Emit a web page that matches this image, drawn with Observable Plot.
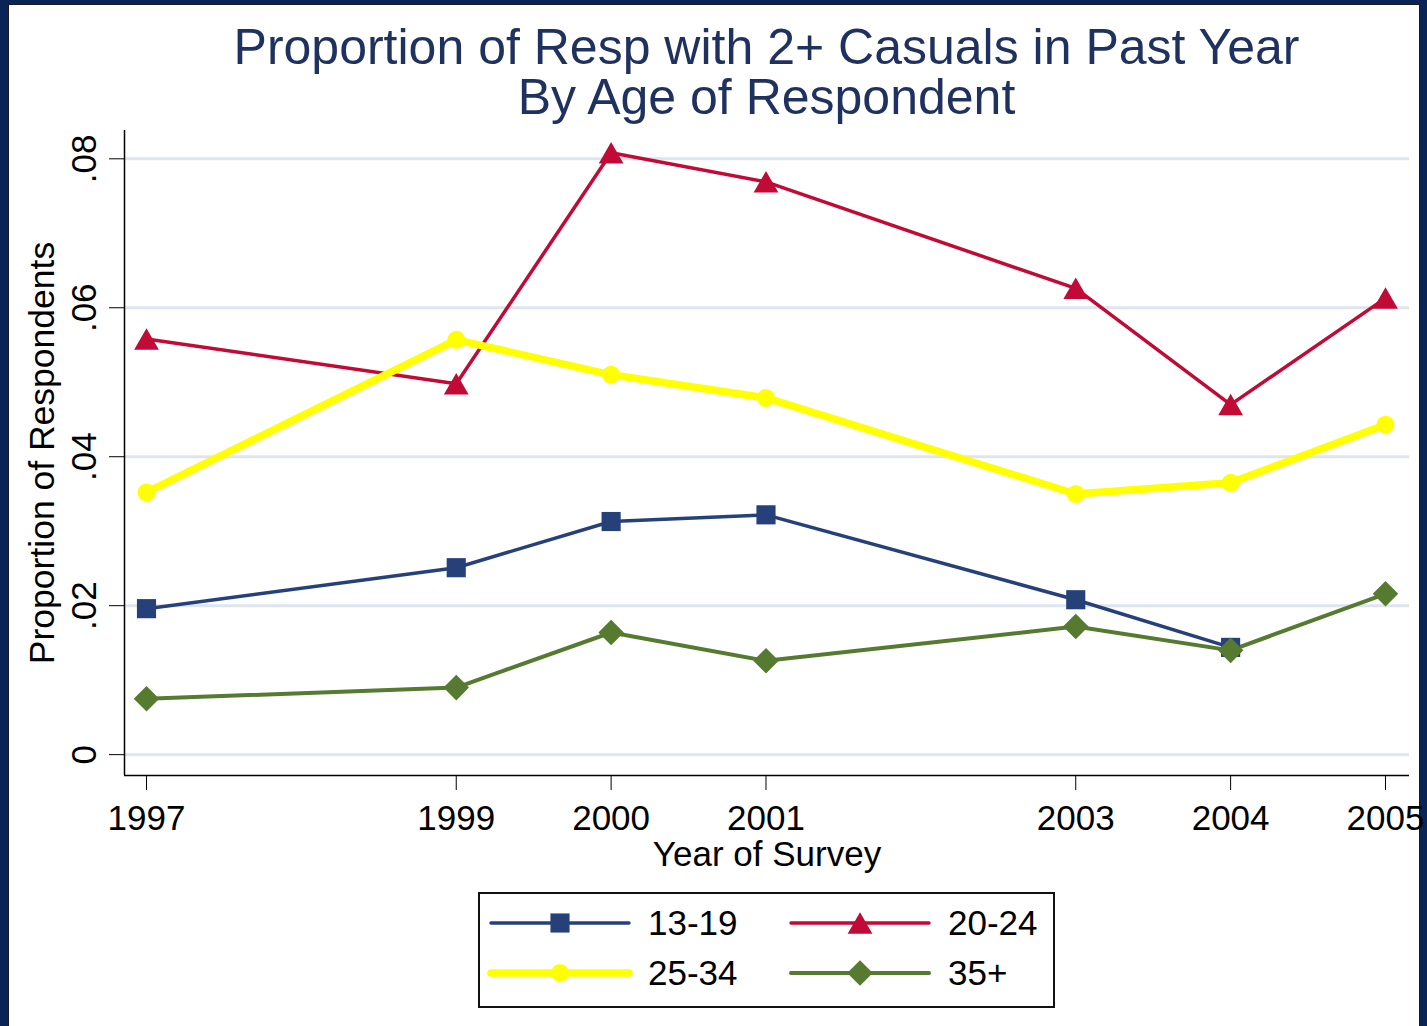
<!DOCTYPE html>
<html>
<head>
<meta charset="utf-8">
<script src="https://cdn.jsdelivr.net/npm/d3@7"></script>
<script src="https://cdn.jsdelivr.net/npm/@observablehq/plot@0.6"></script>
<style>
  html, body { margin: 0; padding: 0; background: #0a2458; }
  #page { position: relative; width: 1427px; height: 1026px; background: #0a2458; overflow: hidden;
          font-family: "Liberation Sans", Arial, sans-serif; }
  #inner { position: absolute; left: 8px; top: 4px; width: 1412px; height: 1040px; background: #fff;
           border: 1.5px solid #1a1a1a; box-sizing: border-box; }
  .title { position: absolute; left: 124px; width: 1285px; text-align: center;
           font-size: 50px; line-height: 50px; height: 50px; color: #1f315e; white-space: nowrap; }
  #chart { position: absolute; left: 0; top: 125px; }
  #legend { position: absolute; left: 478px; top: 892px; width: 577px; height: 116px;
            border: 2px solid #111; box-sizing: border-box; background: #fff; }
  #legend svg { position: absolute; left: -2px; top: -2px; }
</style>
</head>
<body>
<div id="page">
  <div id="inner"></div>
  <div class="title" style="top:22px">Proportion of Resp with 2+ Casuals in Past Year</div>
  <div class="title" style="top:72px">By Age of Respondent</div>
  <div id="chart"></div>
  <div id="legend"></div>
</div>
<script>
// ---- data ----
const years = [1997, 1999, 2000, 2001, 2003, 2004, 2005];
const teen  = [0.0196, 0.0251, 0.0313, 0.0322, 0.0208, 0.0144];          // 13-19 (no 2005)
const young = [0.0558, 0.0498, 0.0808, 0.0769, 0.0626, 0.0470, 0.0613];  // 20-24
const mid   = [0.0352, 0.0557, 0.0510, 0.0479, 0.0350, 0.0365, 0.0443];  // 25-34
const older = [0.0075, 0.0090, 0.0164, 0.0126, 0.0172, 0.0140, 0.0216];  // 35+
const seriesNames = ["13-19", "20-24", "25-34", "35+"];
const yTicks = [0, 0.02, 0.04, 0.06, 0.08];
const xLabel = "Year of Survey";
const yLabel = "Proportion of Respondents";

// ---- styles ----
const seriesValues = [teen, young, mid, older];
const seriesColors = ["#26417a", "#c10a36", "#ffff00", "#567a2f"];
const seriesSymbols = ["square", "triangle", "circle", "diamond2"];
const seriesWidths = [3.5, 3.5, 7.5, 4];
const seriesR = [10.8, 9.2, 9, 11.5];
const seriesDy = [0, 3.5, 0, 0];
const xDomain = [1996.858, 2005.155];
const yDomain = [-0.0028, 0.0838];

const data = seriesValues.map((vals, i) =>
  vals.map((v, j) => ({year: years[j], value: v, series: seriesNames[i]})));

const fmtY = d => d === 0 ? "0" : d3.format(".2f")(d).replace(/^0/, "");

const marks = [
  Plot.gridY(yTicks, {stroke: "#dfe5ef", strokeOpacity: 1, strokeWidth: 3}),
  Plot.ruleX([xDomain[0]], {stroke: "#000", strokeWidth: 1.5}),
  Plot.ruleY([yDomain[0]], {stroke: "#000", strokeWidth: 1.5}),
  Plot.axisX({ticks: years, tickFormat: d => String(d), tickSize: 15, tickPadding: 15,
              fontSize: 35, label: null, stroke: "#000"}),
  Plot.axisY({ticks: yTicks, tickFormat: fmtY, tickSize: 15, tickRotate: -90, tickPadding: 14,
              fontSize: 35, label: null}),
  Plot.text([xLabel], {frameAnchor: "bottom", dy: 79, fontSize: 35, lineAnchor: "middle", fill: "#000"}),
  Plot.text([yLabel], {frameAnchor: "left", dx: -96, rotate: -90, fontSize: 35.5, lineAnchor: "top",
                       textAnchor: "middle", fill: "#000"})
];
data.forEach((d, i) => {
  marks.push(Plot.line(d, {x: "year", y: "value", stroke: seriesColors[i], strokeWidth: seriesWidths[i],
                            strokeLinejoin: "round", strokeLinecap: "round"}));
});
data.forEach((d, i) => {
  marks.push(Plot.dot(d, {x: "year", y: "value", symbol: () => seriesSymbols[i], r: seriesR[i],
                           fill: seriesColors[i], stroke: "none", dy: seriesDy[i]}));
});

const chart = Plot.plot({
  width: 1427,
  height: 755,
  marginLeft: 124,
  marginRight: 18,
  marginTop: 5,
  marginBottom: 105,
  x: {domain: xDomain},
  y: {domain: yDomain},
  symbol: {type: "identity"},
  style: {background: "transparent", fontFamily: "'Liberation Sans', Arial, sans-serif", color: "#000", overflow: "visible"},
  marks
});
document.getElementById("chart").appendChild(chart);

// ---- legend ----
const symbolTypes = {square: d3.symbolSquare, triangle: d3.symbolTriangle, circle: d3.symbolCircle, diamond2: d3.symbolDiamond2};
const lg = d3.select("#legend").append("svg").attr("width", 577).attr("height", 116);
const cols = [13, 313], rows = [31, 81];
seriesNames.forEach((name, i) => {
  const cx = cols[i % 2], cy = rows[Math.floor(i / 2)];
  lg.append("line").attr("x1", cx).attr("x2", cx + 138).attr("y1", cy).attr("y2", cy)
    .attr("stroke", seriesColors[i]).attr("stroke-width", seriesWidths[i]).attr("stroke-linecap", "round");
  lg.append("path")
    .attr("d", d3.symbol(symbolTypes[seriesSymbols[i]], Math.PI * seriesR[i] * seriesR[i])())
    .attr("transform", `translate(${cx + 69},${cy + seriesDy[i]})`)
    .attr("fill", seriesColors[i]);
  lg.append("text").attr("x", cx + 157).attr("y", cy).attr("dy", "0.35em")
    .attr("font-size", 35).attr("font-family", "'Liberation Sans', Arial, sans-serif").attr("fill", "#000")
    .text(name);
});
</script>
</body>
</html>
